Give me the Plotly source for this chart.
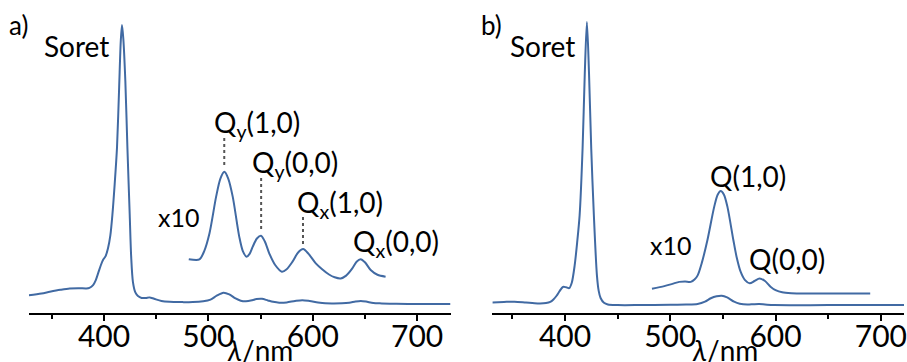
import plotly.graph_objects as go

# ---------------- data (normalised absorbance, Soret = 1) ----------------
a_wl = [328, 340, 348, 358, 367, 376, 383, 386, 389.5, 392, 394.3, 397, 399, 401.5,
        403.8, 406, 408, 410.2, 412.4, 414.5, 416, 417.2, 418.5, 420.4, 422.4, 424.6,
        426, 427.7, 430, 432.5, 436, 440, 443.7, 448, 455, 462.8, 475, 485, 495, 502,
        508, 514.4, 520, 526, 531, 536, 542, 546, 551.3, 557, 562, 567.9, 575, 583,
        590, 597, 605, 612, 618.8, 628, 635, 641, 646, 651, 658, 666, 680, 700, 732]
a_abs = [0.032, 0.038, 0.044, 0.051, 0.056, 0.057, 0.056, 0.058, 0.068, 0.085, 0.11,
         0.14, 0.158, 0.172, 0.20, 0.245, 0.32, 0.43, 0.56, 0.78, 0.94, 1.0, 0.95,
         0.80, 0.56, 0.32, 0.17, 0.079, 0.042, 0.029, 0.022, 0.022, 0.024, 0.019,
         0.011, 0.008, 0.007, 0.007, 0.010, 0.016, 0.030, 0.041, 0.035, 0.020, 0.012,
         0.010, 0.014, 0.018, 0.019, 0.013, 0.008, 0.005, 0.006, 0.011, 0.014, 0.011,
         0.006, 0.003, 0.0025, 0.003, 0.005, 0.009, 0.011, 0.009, 0.004, 0.0025,
         0.001, 0.0, 0.0]

a_x10_wl = [481.2, 491.4, 496, 501, 507.4, 511.5, 515.3, 519, 523.3, 529.6, 533, 536.6,
            539.5, 542.4, 546.5, 550.4, 554, 558.3, 564, 570.4, 575, 580.6, 586, 590.8,
            596, 602.9, 609, 615.6, 621, 626.8, 632, 637.9, 642, 645.9, 650, 655.5, 662,
            669.8]
a_x10_abs = [0.161, 0.160, 0.19, 0.253, 0.385, 0.45, 0.474, 0.45, 0.385, 0.241, 0.19,
             0.17, 0.18, 0.205, 0.235, 0.245, 0.225, 0.182, 0.14, 0.116, 0.125, 0.152,
             0.185, 0.197, 0.18, 0.146, 0.125, 0.106, 0.096, 0.092, 0.102, 0.128, 0.152,
             0.161, 0.15, 0.122, 0.105, 0.098]

b_wl = [331, 342, 352, 363, 374, 382, 386, 389, 392, 395, 398, 401, 404, 406.5, 409.2,
        411.5, 413.9, 416.7, 418.8, 420.8, 422.8, 424.9, 427.4, 430.3, 432, 433.8, 437,
        440.7, 450, 470, 500, 515, 525.9, 533, 538.5, 544, 548.9, 554, 560.6, 566,
        573.2, 579, 584.3, 590, 598.5, 650, 722]
b_abs = [0.0095, 0.011, 0.012, 0.009, 0.006, 0.007, 0.011, 0.02, 0.033, 0.05, 0.064,
         0.063, 0.06, 0.08, 0.141, 0.22, 0.318, 0.554, 0.82, 1.0, 0.82, 0.554, 0.318,
         0.106, 0.05, 0.025, 0.008, 0.002, 0.0, 0.0, 0.001, 0.002, 0.004, 0.012, 0.024,
         0.031, 0.033, 0.027, 0.012, 0.005, 0.002, 0.003, 0.0035, 0.002, 0.0, 0.0, 0.0]

b_x10_wl = [482.6, 494.3, 502, 508.5, 514, 519.5, 523, 526, 530, 535.3, 541.7, 545,
            547.9, 551, 554.3, 559.9, 563, 566.8, 571, 575.4, 580, 584.8, 590, 595.2,
            600, 606.3, 615, 630, 660, 689.9]
b_x10_abs = [0.058, 0.067, 0.075, 0.082, 0.083, 0.082, 0.09, 0.105, 0.15, 0.23, 0.347,
             0.39, 0.403, 0.39, 0.347, 0.23, 0.17, 0.118, 0.088, 0.077, 0.085, 0.094,
             0.085, 0.065, 0.053, 0.045, 0.042, 0.041, 0.041, 0.041]

tick_vals = [400, 500, 600, 700]
tick_text = ["400", "500", "600", "700"]

# ---------------- styling ----------------
W, H = 907, 362
PB = 313            # pixel row of the x axis line
LINE = "#416aa3"
FONT = "Lato"
FS = 28

def px(x):
    return x / W

def py(y):
    return (PB - y) / PB

fig = go.Figure()
for xa, ya, xs, ys in [("x", "y", a_wl, a_abs), ("x", "y", a_x10_wl, a_x10_abs),
                       ("x2", "y2", b_wl, b_abs), ("x2", "y2", b_x10_wl, b_x10_abs)]:
    fig.add_trace(go.Scatter(x=xs, y=ys, xaxis=xa, yaxis=ya, mode="lines",
                             line=dict(color=LINE, width=2, shape="spline", smoothing=0.8),
                             hoverinfo="skip", showlegend=False))

axis_common = dict(showline=True, linecolor="black", linewidth=2, ticks="outside",
                   ticklen=6, tickwidth=1.5, tickcolor="black", tickvals=tick_vals,
                   ticktext=tick_text, showgrid=False, zeroline=False,
                   tickfont=dict(family=FONT, size=30, color="black"),
                   ticklabelstandoff=-10, ticklabeloverflow="allow",
                   minor=dict(ticks="outside", ticklen=4, tickwidth=1.5,
                              tickcolor="black", dtick=50, tick0=350, showgrid=False))

fig.update_layout(
    width=W, height=H, margin=dict(l=0, r=0, t=0, b=H - PB),
    plot_bgcolor="white", paper_bgcolor="white",
    xaxis=dict(domain=[29 / W, 452 / W], range=[328, 732], anchor="y", **axis_common),
    xaxis2=dict(domain=[494 / W, 1.0], range=[331, 722], anchor="y2", **axis_common),
    yaxis=dict(domain=[0, 1], range=[-0.032, 1.09], visible=False, anchor="x"),
    yaxis2=dict(domain=[0, 1], range=[-0.028, 1.078], visible=False, anchor="x2"),
)

labels = [
    ("a)", 19, 25, 26),
    ("Soret", 76.5, 46, FS),
    ("x10", 179, 217, 25),
    ("Q<sub>y</sub>(1,0)", 257.5, 124, FS),
    ("Q<sub>y</sub>(0,0)", 296, 164, FS),
    ("Q<sub>x</sub>(1,0)", 341, 204, FS),
    ("Q<sub>x</sub>(0,0)", 397, 243, FS),
    ("<i>λ</i>/nm", 261, 350, FS),
    ("b)", 493, 25, 26),
    ("Soret", 544.5, 46, FS),
    ("x10", 673, 245, 25),
    ("Q(1,0)", 750, 176, FS),
    ("Q(0,0)", 789.5, 259, FS),
    ("<i>λ</i>/nm", 727, 350, FS),
]
for text, x, y, s in labels:
    fig.add_annotation(text=text, x=px(x), y=py(y), xref="paper", yref="paper",
                       xanchor="center", yanchor="middle", showarrow=False,
                       font=dict(family=FONT, size=s, color="black"))

# dotted leader lines (pixel positions)
leaders = [(225, 138, 167), (262, 178, 232), (304, 217, 245)]
for x, y0, y1 in leaders:
    fig.add_shape(type="line", xref="paper", yref="paper", x0=px(x), x1=px(x),
                  y0=py(y0), y1=py(y1), line=dict(color="#555555", width=2, dash="dot"))

fig.write_html("out.html", config={"displayModeBar": False},
               post_script="document.body.style.margin='0';document.body.style.overflow='hidden';")
